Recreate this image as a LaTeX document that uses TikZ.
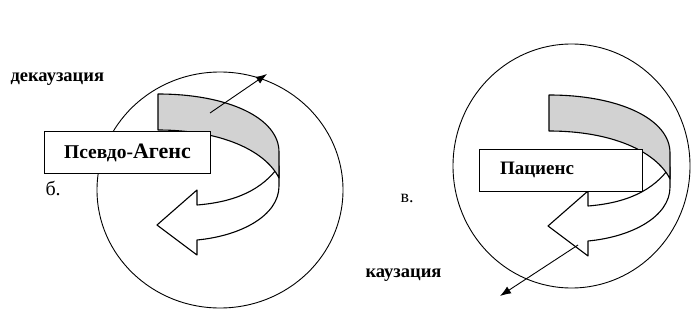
\documentclass[tikz,border=0pt]{standalone}
\usepackage{fontspec}
\setmainfont{Liberation Serif}
\usetikzlibrary{arrows.meta}
\begin{document}
\begin{tikzpicture}[x=1pt,y=-1pt,
  ring/.style={draw, line width=0.9pt},
  band/.style={draw, line width=1.1pt, line join=round},
  box/.style={draw, fill=white, line width=1pt, font=\bfseries\fontsize{19}{22}\selectfont},
  lab/.style={font=\bfseries\fontsize{18.5}{20}\selectfont},
  letter/.style={font=\fontsize{18}{20}\selectfont},
  arr/.style={-{Latex[length=11pt,width=8pt]}, line width=0.9pt}]
\useasboundingbox (0,0) rectangle (692,326);
\fill[white] (0,0) rectangle (692,326);
\draw[ring] (220,190) ellipse [x radius=123pt, y radius=118pt];
\draw[ring] (571.5,166) ellipse [x radius=118.5pt, y radius=122pt];
\foreach \dx/\dy in {0/0,391/1} {
 \begin{scope}[shift={(\dx,\dy)}]
  \draw[band, fill=white] (279,166) .. controls (262,190) and (235,202) .. (197,205) -- (197,190) -- (157,225) -- (197,255) -- (197,240) .. controls (240,236) and (279,216) .. (279,186) -- cycle;
  \draw[band, fill=gray!35] (158,94) .. controls (228,94) and (279,118) .. (279,152) -- (279,178) .. controls (265,150) and (220,130) .. (158,130) -- cycle;
 \end{scope}
}
\node[box, minimum width=166pt, minimum height=42pt, inner sep=0pt] (agens) at (127.5,152.5) {{\fontsize{19.5}{22}\selectfont Псевдо-}{\fontsize{22}{26}\selectfont Агенс}};
\node[box, minimum width=163pt, minimum height=42pt, inner xsep=21pt, text width=121pt, align=left] (patiens) at (560.5,170) {Пациенс};
\node[lab, anchor=base west] (dek) at (7,82) {декаузация};
\node[lab, anchor=base west] (kauz) at (362,277) {каузация};
\node[letter, font=\fontsize{20}{22}\selectfont, anchor=base west] (b) at (42,195) {б.};
\node[letter, anchor=base west] (v) at (397,202) {в.};
\coordinate (d0) at (210,113);
\coordinate (d1) at (267,74);
\coordinate (c0) at (578,245);
\coordinate (c1) at (500,296);
\draw[arr] (d0) -- (d1);
\draw[arr] (c0) -- (c1);
\end{tikzpicture}
\end{document}
